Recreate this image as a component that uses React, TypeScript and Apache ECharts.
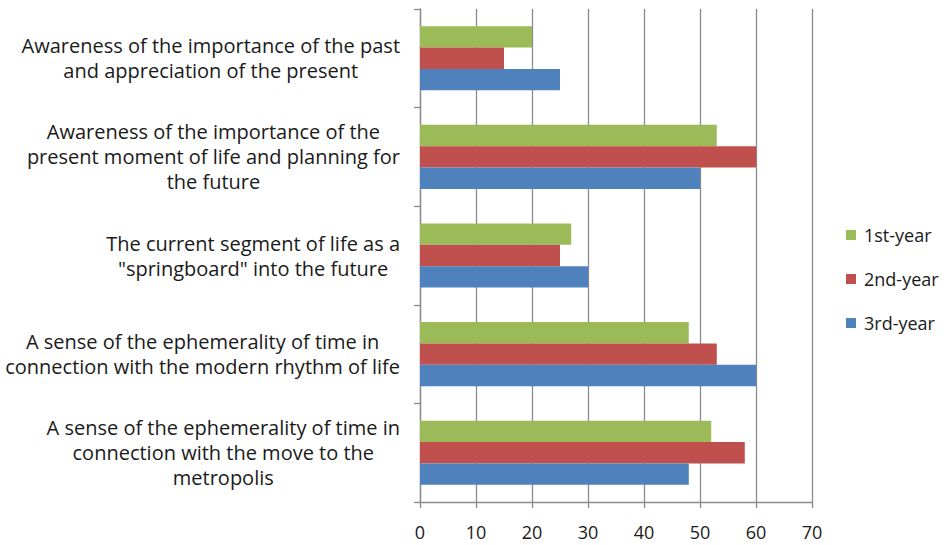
import React, { useEffect, useRef } from "react";
import * as echarts from "echarts";

// Categories listed bottom to top (the y category axis grows upward)
const categories: string[] = [
  "A sense of the ephemerality of time in\nconnection with the move to the\nmetropolis",
  "A sense of the ephemerality of time in\nconnection with the modern rhythm of life",
  "The current segment of life as a\n\"springboard\" into the future",
  "Awareness of the importance of the\npresent moment of life and planning for\nthe future",
  "Awareness of the importance of the past\nand appreciation of the present",
];

const firstYear: number[] = [52, 48, 27, 53, 20];
const secondYear: number[] = [58, 53, 25, 60, 15];
const thirdYear: number[] = [48, 60, 30, 50, 25];

const xTicks = { min: 0, max: 70, interval: 10 };

const FONT = "'Open Sans', Lato, sans-serif";
const GRID_COLOR = "#8a8a8a";
const TEXT_COLOR = "#1a1a1a";

export default function App() {
  const ref = useRef<HTMLDivElement>(null);

  useEffect(() => {
    if (!ref.current) return;
    const chart = echarts.init(ref.current, undefined, { renderer: "svg" });

    const barSeries = (name: string, data: number[], color: string) => ({
      name,
      type: "bar" as const,
      data,
      itemStyle: { color },
      barGap: "0%",
      barCategoryGap: "35%",
    });

    chart.setOption({
      animation: false,
      backgroundColor: "#ffffff",
      textStyle: { fontFamily: FONT },
      grid: { left: 420, right: 137, top: 9, bottom: 43 },
      legend: {
        orient: "vertical",
        left: 846,
        top: 226,
        padding: 0,
        itemWidth: 10,
        itemHeight: 10,
        itemGap: 26,
        icon: "rect",
        data: ["1st-year", "2nd-year", "3rd-year"],
        textStyle: {
          fontFamily: FONT,
          fontSize: 18,
          color: TEXT_COLOR,
          padding: [0, 0, 0, 3],
        },
      },
      xAxis: {
        type: "value",
        min: xTicks.min,
        max: xTicks.max,
        interval: xTicks.interval,
        axisLine: { show: true, lineStyle: { color: GRID_COLOR, width: 1.3 } },
        axisTick: { show: true, length: 6, lineStyle: { color: GRID_COLOR, width: 1.3 } },
        splitLine: { show: true, lineStyle: { color: GRID_COLOR, width: 1.3 } },
        axisLabel: {
          fontFamily: FONT,
          fontSize: 18,
          color: TEXT_COLOR,
          margin: 21,
        },
      },
      yAxis: {
        type: "category",
        data: categories,
        axisLine: { show: true, lineStyle: { color: GRID_COLOR, width: 1.3 } },
        axisTick: { show: true, length: 6, lineStyle: { color: GRID_COLOR, width: 1.3 } },
        axisLabel: {
          margin: 20,
          align: "right",
          formatter: (value: string) =>
            value
              .split("\n")
              .map((line) => `{c|${line}}`)
              .join("\n"),
          rich: {
            c: {
              align: "center",
              fontFamily: FONT,
              fontSize: 20,
              lineHeight: 25,
              color: TEXT_COLOR,
            },
          },
        },
      },
      series: [
        barSeries("1st-year", firstYear, "#9bbb59"),
        barSeries("2nd-year", secondYear, "#c0504d"),
        barSeries("3rd-year", thirdYear, "#4f81bd"),
      ],
    });

    return () => chart.dispose();
  }, []);

  return (
    <div
      ref={ref}
      style={{ position: "fixed", left: 0, top: 0, width: 949, height: 545 }}
    />
  );
}
